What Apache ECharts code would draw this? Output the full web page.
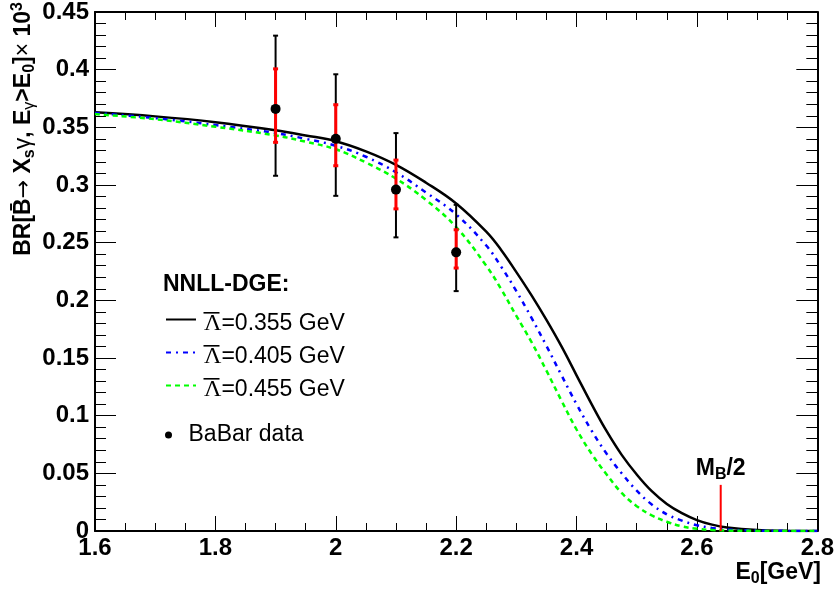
<!DOCTYPE html>
<html><head><meta charset="utf-8">
<script src="https://cdn.jsdelivr.net/npm/echarts@6/dist/echarts.min.js"></script>
<style>html,body{margin:0;padding:0;background:#fff}#c{width:837px;height:592px}</style>
</head><body><div id="c"></div>
<script>
// ---- data ----
const energies    = [1.6,1.7,1.8,1.9,1.95,2.0,2.05,2.1,2.15,2.2,2.25,2.275,2.3,2.325,2.35,2.375,2.4,2.425,2.45,2.475,2.5,2.525,2.55,2.575,2.6,2.625,2.65,2.7,2.75,2.8];
const brLambda355 = [0.363,0.3595,0.3545,0.3475,0.343,0.338,0.3292,0.3175,0.302,0.284,0.2595,0.2435,0.2245,0.2045,0.183,0.160,0.135,0.110,0.0865,0.066,0.049,0.0345,0.0235,0.0155,0.0095,0.0055,0.003,0.0008,0.0002,0.0];
const brLambda405 = [0.3625,0.358,0.352,0.345,0.340,0.334,0.3245,0.311,0.2935,0.2745,0.2475,0.229,0.208,0.185,0.1605,0.135,0.110,0.087,0.067,0.050,0.035,0.023,0.0145,0.009,0.005,0.0026,0.0013,0.0003,0.0001,0.0];
const brLambda455 = [0.3615,0.357,0.3505,0.343,0.3375,0.331,0.3195,0.3055,0.287,0.2635,0.230,0.2095,0.1865,0.164,0.139,0.113,0.088,0.067,0.049,0.033,0.0215,0.0135,0.008,0.004,0.0019,0.0009,0.0004,0.0001,0.0,0.0];
const curveNames  = ['Λ=0.355 GeV','Λ=0.405 GeV','Λ=0.455 GeV'];
const curveLabels = ['0.355','0.405','0.455'];

const babarE         = [1.9,2.0,2.1,2.2];
const babarBR        = [0.366,0.340,0.296,0.2416];
const babarTotLow    = [0.308,0.2906,0.2546,0.208];
const babarTotHigh   = [0.4295,0.396,0.345,0.2828];
const babarInnerLow  = [0.337,0.3167,0.2793,0.228];
const babarInnerHigh = [0.4007,0.3696,0.3216,0.2612];

const mbHalfE = 2.6395;
const mbLine  = [0, 0.04];

const xTickLabels = ['1.6','1.8','2','2.2','2.4','2.6','2.8'];
const yTickLabels = ['0','0.05','0.1','0.15','0.2','0.25','0.3','0.35','0.4','0.45'];

// ---- chart ----
const FONT = "'Liberation Sans', Arial, Helvetica, sans-serif";
const SERIF = "'Liberation Serif', 'Times New Roman', serif";
const chart = echarts.init(document.getElementById('c'), null, {renderer:'canvas'});

function zip(xs, ys){ return xs.map((x,i)=>[x, ys[i]]); }

function errBar(color, width){
  return function(params, api){
    const x = api.value(0), lo = api.value(1), hi = api.value(2);
    const a = api.coord([x, lo]), b = api.coord([x, hi]);
    const st = {stroke: color, lineWidth: width};
    return {type:'group', children:[
      {type:'line', shape:{x1:a[0], y1:a[1], x2:b[0], y2:b[1]}, style:st},
      {type:'line', shape:{x1:a[0]-2.5, y1:a[1], x2:a[0]+2.5, y2:a[1]}, style:st},
      {type:'line', shape:{x1:b[0]-2.5, y1:b[1], x2:b[0]+2.5, y2:b[1]}, style:st}
    ]};
  };
}

const richMain = {
  b:   {fontFamily:FONT, fontWeight:'bold', fontSize:23, lineHeight:28, color:'#000'},
  r:   {fontFamily:FONT, fontWeight:'normal', fontSize:23, lineHeight:28, color:'#000'},
  ar:  {fontFamily:"'DejaVu Sans', sans-serif", fontWeight:'normal', fontSize:22, lineHeight:28, color:'#000'},
  bs:  {fontFamily:FONT, fontWeight:'bold', fontSize:16, lineHeight:12, verticalAlign:'bottom', color:'#000'},
  rs:  {fontFamily:FONT, fontWeight:'normal', fontSize:16, lineHeight:12, verticalAlign:'bottom', color:'#000'},
  bsup:{fontFamily:FONT, fontWeight:'bold', fontSize:16, lineHeight:12, verticalAlign:'top', color:'#000'}
};

const xAxisCommon = {
  type:'value', min:1.6, max:2.8, interval:0.2,
  axisLine:{show:true, onZero:false, lineStyle:{color:'#000', width:2}},
  splitLine:{show:false}
};
const yAxisCommon = {
  type:'value', min:0, max:0.45, interval:0.05,
  axisLine:{show:true, onZero:false, lineStyle:{color:'#000', width:2}},
  splitLine:{show:false}
};

// legend row centres (icon) : top + 16 + k*33
const legendTop = 303.5;
const overlines = [0,1,2].map(k => ({
  type:'rect', shape:{x:203.5, y:legendTop + 16 + k*33 - 7.5, width:16, height:1.6},
  style:{fill:'#000'}, silent:true
}));

const option = {
  backgroundColor:'#fff',
  animation:false,
  grid:{left:95, right:18, top:10, bottom:61, containLabel:false},
  xAxis:[
    Object.assign({}, xAxisCommon, {
      position:'bottom',
      axisTick:{show:true, inside:true, length:15, lineStyle:{color:'#000', width:1}},
      minorTick:{show:true, splitNumber:4, length:8, lineStyle:{color:'#000', width:1}},
      axisLabel:{show:true, margin:5, fontFamily:FONT, fontWeight:'bold', fontSize:24, color:'#000',
        formatter:(v,i)=>xTickLabels[i]}
    }),
    Object.assign({}, xAxisCommon, {
      position:'top',
      axisTick:{show:true, inside:true, length:15, lineStyle:{color:'#000', width:1}},
      minorTick:{show:true, splitNumber:4, length:8, lineStyle:{color:'#000', width:1}},
      axisLabel:{show:false}
    })
  ],
  yAxis:[
    Object.assign({}, yAxisCommon, {
      position:'left',
      axisTick:{show:true, inside:true, length:21, lineStyle:{color:'#000', width:1}},
      minorTick:{show:true, splitNumber:5, length:11, lineStyle:{color:'#000', width:1}},
      axisLabel:{show:true, margin:6, fontFamily:FONT, fontWeight:'bold', fontSize:24, color:'#000',
        formatter:(v,i)=>yTickLabels[i]}
    }),
    Object.assign({}, yAxisCommon, {
      position:'right',
      axisTick:{show:true, inside:true, length:21, lineStyle:{color:'#000', width:1}},
      minorTick:{show:true, splitNumber:5, length:11, lineStyle:{color:'#000', width:1}},
      axisLabel:{show:false}
    })
  ],
  legend:[
    {
      data:curveNames, orient:'vertical', left:165, top:legendTop, padding:0,
      itemWidth:30, itemHeight:3, itemGap:1, selectedMode:false,
      itemStyle:{opacity:0, borderWidth:0},
      formatter:(name)=>'{lam|Λ}{t|=' + curveLabels[curveNames.indexOf(name)] + ' GeV}',
      textStyle:{fontFamily:FONT, fontSize:23, color:'#000', lineHeight:24,
        rich:{lam:{fontFamily:SERIF, fontSize:24, lineHeight:24, padding:[8,0,0,3], color:'#000'},
              t:{fontFamily:FONT, fontSize:23, lineHeight:24, padding:[8,0,0,0], color:'#000'}}}
    },
    {
      data:[{name:'BaBar data', icon:'circle'}], orient:'vertical', left:165, top:423, padding:0,
      itemWidth:30, itemHeight:7, selectedMode:false,
      textStyle:{fontFamily:FONT, fontSize:23, color:'#000', lineHeight:24}
    }
  ],
  graphic:[
    {type:'text', x:163, y:285, style:{text:'NNLL-DGE:', fontFamily:FONT, fontWeight:'bold', fontSize:23,
      fill:'#000', verticalAlign:'middle', align:'left'}},
    {type:'text', x:821, y:573, style:{text:'{b|E}{bs|0}{b|[GeV]}', rich:richMain,
      verticalAlign:'middle', align:'right'}},
    {type:'text', x:24, y:2, rotation:Math.PI/2,
      style:{text:'{b|BR[B\u0304}{ar|\u2192}{r| }{b|X}{bs|s}{r|\u03b3}{b|, E}{rs|\u03b3}{b|>E}{bs|0}{b|]}{r|\u00d7 }{b|10}{bsup|3}',
        rich:richMain, verticalAlign:'middle', align:'right'}}
  ].concat(overlines),
  series:[
    {name:curveNames[0], type:'line', data:zip(energies, brLambda355), showSymbol:false, symbol:'none',
      smooth:0.4, lineStyle:{color:'#000', width:2.5, type:'solid'}, itemStyle:{color:'#000'}, z:3},
    {name:curveNames[1], type:'line', data:zip(energies, brLambda405), showSymbol:false, symbol:'none',
      smooth:0.4, lineStyle:{color:'#0000ff', width:2.5, type:[5,5,2,5]}, itemStyle:{color:'#0000ff'}, z:3},
    {name:curveNames[2], type:'line', data:zip(energies, brLambda455), showSymbol:false, symbol:'none',
      smooth:0.4, lineStyle:{color:'#00ff00', width:2.5, type:[5,4]}, itemStyle:{color:'#00ff00'}, z:3},
    {name:'tot err', type:'custom', renderItem:errBar('#000', 2),
      data:babarE.map((x,i)=>[x, babarTotLow[i], babarTotHigh[i]]), encode:{x:0, y:[1,2]}, z:4},
    {name:'inner err', type:'custom', renderItem:errBar('#ff0000', 3),
      data:babarE.map((x,i)=>[x, babarInnerLow[i], babarInnerHigh[i]]), encode:{x:0, y:[1,2]}, z:5},
    {name:'BaBar data', type:'scatter', data:zip(babarE, babarBR), symbol:'circle', symbolSize:10,
      itemStyle:{color:'#000', opacity:1}, z:6},
    {name:'MB line', type:'line', data:mbLine.map(v=>[mbHalfE, v]), symbol:'none',
      lineStyle:{color:'#ff0000', width:2}, z:4},
    {name:'MB label', type:'scatter', data:[[mbHalfE, mbLine[1]]], symbolSize:1,
      itemStyle:{color:'rgba(0,0,0,0)', opacity:1}, z:6,
      label:{show:true, position:'top', distance:2, color:'#000', opacity:1,
        formatter:'{b|M}{bs|B}{b|/2}', rich:richMain}}
  ]
};
chart.setOption(option);
</script>
</body></html>
